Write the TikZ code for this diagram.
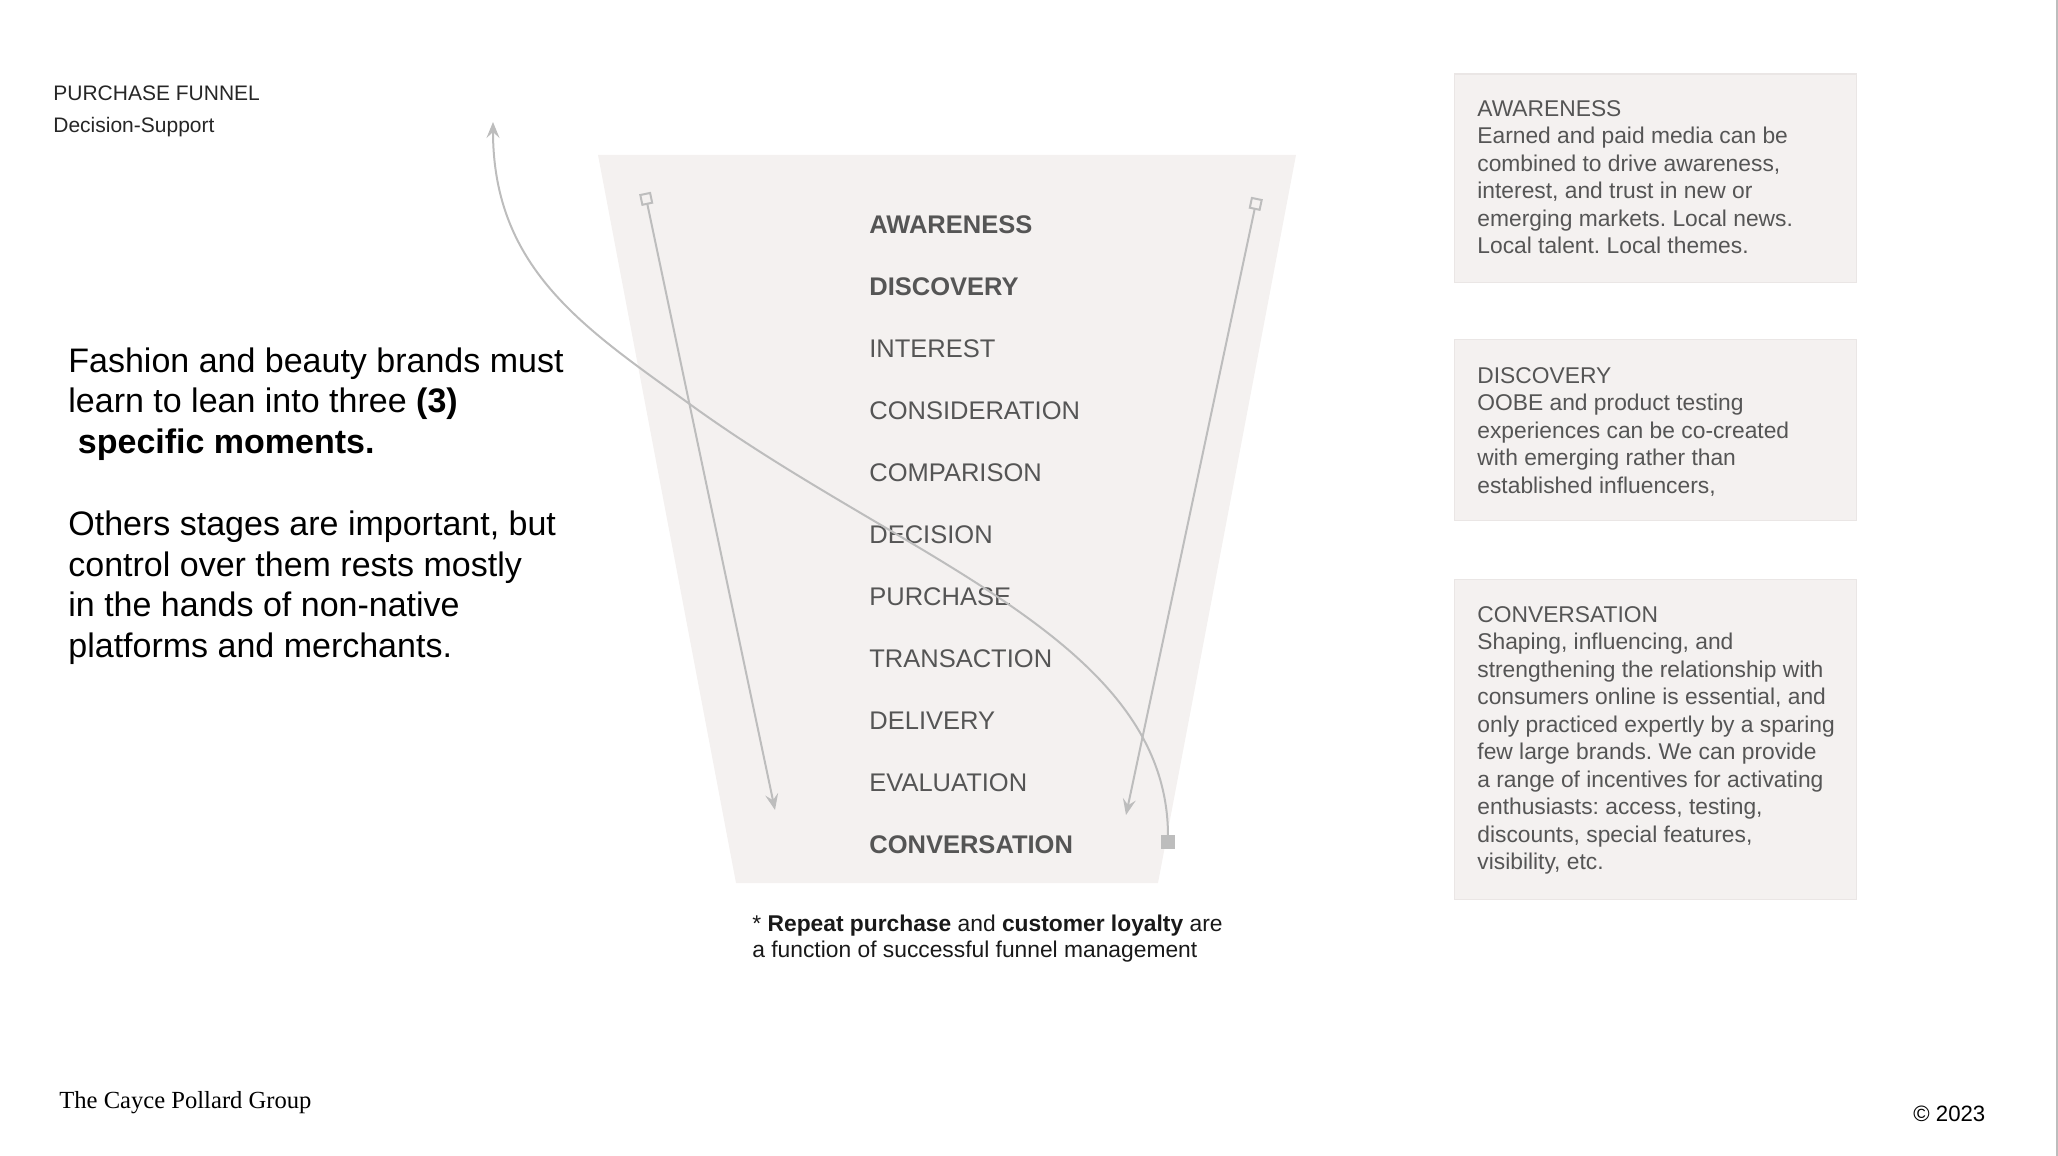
\documentclass[tikz,border=0pt]{standalone}
\usepackage{fontspec}
\setmainfont{Liberation Sans}
\newfontfamily\brandfont{Liberation Serif}
\usetikzlibrary{arrows.meta,positioning}
\definecolor{funnelgray}{HTML}{F4F1F0}
\definecolor{boxline}{HTML}{EAE6E5}
\definecolor{labelgray}{HTML}{555555}
\definecolor{arrowgray}{HTML}{BDBDBD}
\frenchspacing

\begin{document}
\begin{tikzpicture}[x=0.5pt, y=-0.5pt,
  stage/.style={anchor=base west, inner sep=0pt, text=labelgray, font=\fontsize{12.75pt}{15pt}\selectfont},
  stagebold/.style={stage, font=\fontsize{12.75pt}{15pt}\selectfont\bfseries},
  infobox/.style={rectangle, draw=boxline, line width=0.7pt, fill=funnelgray, anchor=north west, minimum width=201pt, inner sep=0pt},
  infotext/.style={inner sep=0pt, align=left, text=labelgray, font=\fontsize{11.4pt}{13.75pt}\selectfont},
  plain/.style={inner sep=0pt, align=left},
  flow/.style={draw=arrowgray, line width=1pt, {Square[open,length=6pt,width=6pt]}-{Stealth[length=8pt,width=6.5pt,inset=3pt]}},
  returnarrow/.style={draw=arrowgray, line width=1pt, {Square[length=7pt,width=7pt]}-{Stealth[length=8pt,width=6.5pt,inset=3pt]}}]
\useasboundingbox (0,0) rectangle (2058,1156);

% funnel
\fill[funnelgray] (598,155) -- (1296,155) -- (1158,883) -- (736,883) -- cycle;
\foreach \name/\txt/\st [count=\i from 0] in {aw/AWARENESS/stagebold, disc/DISCOVERY/stagebold,
    int/INTEREST/stage, cons/CONSIDERATION/stage, comp/COMPARISON/stage, dec/DECISION/stage,
    pur/PURCHASE/stage, trans/TRANSACTION/stage, deliv/DELIVERY/stage, eval/EVALUATION/stage,
    conv/CONVERSATION/stagebold}
  \node[\st] (\name) at (869, 234+61.9*\i) {\txt};

% arrows
\coordinate (ltop) at (645,193); \coordinate (lbot) at (775,810);
\coordinate (rtop) at (1257,198); \coordinate (rbot) at (1126,815);
\coordinate (cstart) at (1168,849); \coordinate (cmid) at (691,405); \coordinate (cend) at (493,122);
\draw[flow] (ltop) -- (lbot); \draw[flow] (rtop) -- (rbot);
\draw[returnarrow] (cstart) .. controls (1168,640) and (905,560) .. (cmid) .. controls (586,329) and (493,270) .. (cend);

% left texts
\node[plain, anchor=north west, text=black!85, font=\fontsize{10.5pt}{16pt}\selectfont] (title) at (53,85) {PURCHASE FUNNEL\\ Decision-Support};
\node[plain, anchor=north west, font=\fontsize{17pt}{20.4pt}\selectfont] (pitch) at (68,347) {Fashion and beauty brands must\\ learn to lean into three \textbf{(3)}\\ \hspace*{0.28em}\textbf{specific moments.}\\[20.4pt] Others stages are important, but\\ control over them rests mostly\\ in the hands of non-native\\ platforms and merchants.};
\node[plain, anchor=north west, text=black!90, font=\fontsize{11.4pt}{13pt}\selectfont] (note) at (752,915) {* \textbf{Repeat purchase} and \textbf{customer loyalty} are\\ a function of successful funnel management};

% right boxes
\node[infobox, minimum height=104.25pt] (awbox) at (1454,73.5) {};
\node[infotext, below right=13.25pt and 11.5pt of awbox.north west] (awtext) {AWARENESS\\ Earned and paid media can be\\ combined to drive awareness,\\ interest, and trust in new or\\ emerging markets. Local news.\\ Local talent. Local themes.};
\node[infobox, minimum height=90.5pt] (discbox) at (1454,339) {};
\node[infotext, below right=14pt and 11.5pt of discbox.north west] (disctext) {DISCOVERY\\ OOBE and product testing\\ experiences can be co-created\\ with emerging rather than\\ established influencers,};
\node[infobox, minimum height=160pt] (convbox) at (1454,579) {};
\node[infotext, below right=13.5pt and 11.5pt of convbox.north west] (convtext) {CONVERSATION\\ Shaping, influencing, and\\ strengthening the relationship with\\ consumers online is essential, and\\ only practiced expertly by a sparing\\ few large brands. We can provide\\ a range of incentives for activating\\ enthusiasts: access, testing,\\ discounts, special features,\\ visibility, etc.};

% footer
\node[anchor=base west, inner sep=0pt, font=\brandfont\fontsize{12.3pt}{14pt}\selectfont] (brand) at (59,1108) {The Cayce Pollard Group};
\node[anchor=base west, inner sep=0pt, font=\fontsize{11.1pt}{13pt}\selectfont] (year) at (1913,1121) {© 2023};
\draw[arrowgray, line width=1pt] (2057,0) -- (2057,1156);
\end{tikzpicture}
\end{document}
